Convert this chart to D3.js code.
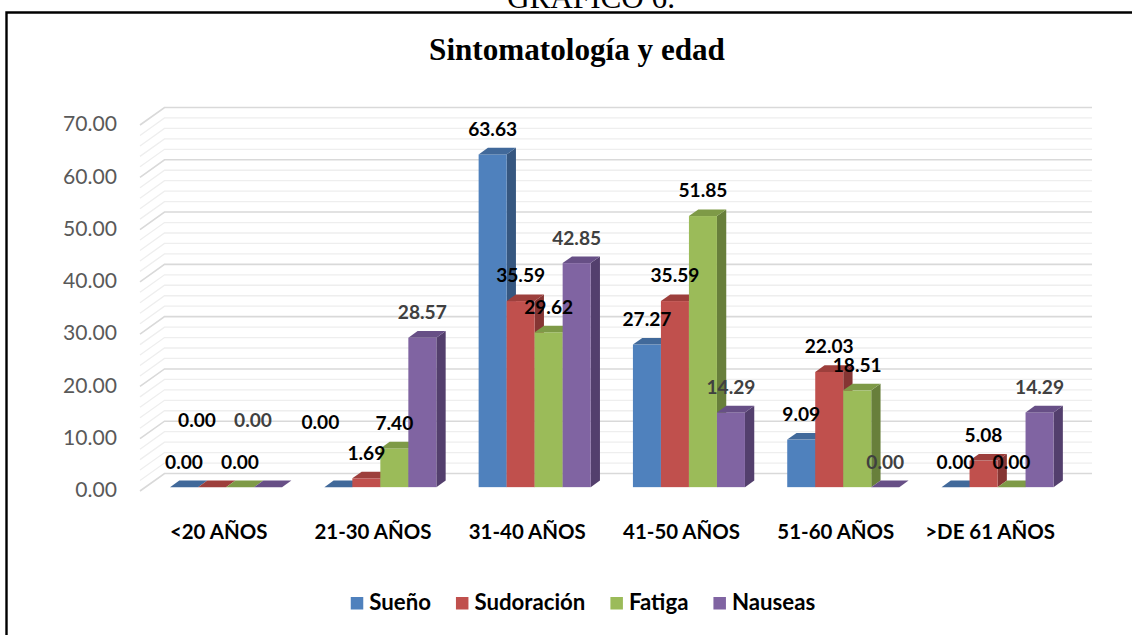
<!DOCTYPE html>
<html>
<head>
<meta charset="utf-8">
<script src="https://cdn.jsdelivr.net/npm/d3@7"></script>
<style>
  html, body { margin: 0; padding: 0; background: #fff; }
  svg { display: block; }
</style>
</head>
<body>
<svg id="chart" width="1132" height="635"></svg>
<script>
// ---------------- DATA ----------------
const categories = ["<20 AÑOS", "21-30 AÑOS", "31-40 AÑOS", "41-50 AÑOS", "51-60 AÑOS", ">DE 61 AÑOS"];
const seriesNames = ["Sueño", "Sudoración", "Fatiga", "Nauseas"];
const sueno      = [0.00, 0.00, 63.63, 27.27,  9.09,  0.00];
const sudoracion = [0.00, 1.69, 35.59, 35.59, 22.03,  5.08];
const fatiga     = [0.00, 7.40, 29.62, 51.85, 18.51,  0.00];
const nauseas    = [0.00, 28.57, 42.85, 14.29, 0.00, 14.29];
const yTicks = [0, 10, 20, 30, 40, 50, 60, 70];
const titleText = "Sintomatología y edad";
const captionText = "GRÁFICO 6.";

const seriesValues = [sueno, sudoracion, fatiga, nauseas];

// ---------------- STYLE ----------------
const frontColors = ["#4F81BD", "#C0504D", "#9BBB59", "#8064A2"];
const topColors   = ["#41699A", "#9D3F3C", "#7E9A47", "#674F86"];
const sideColors  = ["#365780", "#853533", "#687F3B", "#533F6D"];
const labelColors = ["#000000", "#000000", "#000000", "#404040"];
// Excel-style overlap nudges for a few data labels: [category, series, dx, dy]
const labelNudges = [[0, 1, -15, -42], [0, 3, -15, -42], [1, 0, -18, -40]];

const svg = d3.select("#chart");

// helper: set font size so text reaches target width
function fitFont(sel, family, weight, sample, targetW) {
  const t = svg.append("text").attr("font-family", family).attr("font-weight", weight)
    .attr("font-size", 100).text(sample);
  const w = t.node().getComputedTextLength();
  t.remove();
  return 100 * targetW / w;
}

const sansFam = "Lato, 'Open Sans', 'DejaVu Sans', sans-serif";
const serifFam = "'Liberation Serif', 'DejaVu Serif', serif";

// frame
svg.append("path")
  .attr("d", "M6.5,640 L6.5,12.5 L1140,12.5")
  .attr("fill", "none").attr("stroke", "#000").attr("stroke-width", 2.4);

// caption above frame (clipped)
const capSize = fitFont(svg, serifFam, "normal", captionText, 168);
svg.append("text").attr("x", 591).attr("y", 8)
  .attr("text-anchor", "middle").attr("font-family", serifFam)
  .attr("font-size", capSize).attr("fill", "#000").text(captionText);

// title
const titleSize = fitFont(svg, serifFam, "bold", titleText, 296);
svg.append("text").attr("x", 577).attr("y", 60)
  .attr("text-anchor", "middle").attr("font-family", serifFam).attr("font-weight", "bold")
  .attr("font-size", titleSize).attr("fill", "#000").text(titleText);

// ---------------- SCALES ----------------
const yFront = d3.scaleLinear().domain([0, 70]).range([491, 125]);
const x = d3.scaleBand().domain(categories).range([143.5, 1069.3])
  .paddingInner(0.274).paddingOuter(0.137);
const DX = 24.5, DY = -17.5;       // full depth of the 3D box
const d0 = 0.22, d1 = 0.60;        // bar depth span
const wallLeft = 140, wallRight = 1092;

// ---------------- GRID ----------------
const grid = svg.append("g");
const minorTicks = d3.range(0, 70.001, 2).filter(v => v % 10 !== 0);
minorTicks.forEach(v => {
  const yy = yFront(v);
  grid.append("path")
    .attr("d", `M${wallLeft},${yy} L${wallLeft + DX},${yy + DY} L${wallRight},${yy + DY}`)
    .attr("fill", "none").attr("stroke", "#EEEEEE").attr("stroke-width", 1.3);
});
yTicks.forEach(v => {
  const yy = yFront(v);
  grid.append("path")
    .attr("d", `M${wallLeft},${yy} L${wallLeft + DX},${yy + DY} L${wallRight},${yy + DY}`)
    .attr("fill", "none").attr("stroke", "#D9D9D9").attr("stroke-width", 1.6);
});

// y axis labels
const tickSize = fitFont(svg, sansFam, "normal", "70.00", 54);
svg.append("g").selectAll("text").data(yTicks).join("text")
  .attr("x", 117).attr("y", d => yFront(d) + 1)
  .attr("text-anchor", "end").attr("dominant-baseline", "middle")
  .attr("font-family", sansFam).attr("font-size", tickSize).attr("fill", "#595959")
  .text(d => d3.format(".2f")(d));

// ---------------- BARS ----------------
const bw = x.bandwidth() / seriesNames.length;
const ox0 = d0 * DX, oy0 = d0 * DY;
const ddx = (d1 - d0) * DX, ddy = (d1 - d0) * DY;
const yBar = v => yFront(v) + oy0;

const barsG = svg.append("g");
const labelData = [];
categories.forEach((c, ci) => {
  seriesNames.forEach((s, si) => {
    const v = seriesValues[si][ci];
    const xl = x(c) + ox0 + si * bw;
    const xr = xl + bw;
    const yt = yBar(v);
    const yb = yBar(0);
    const g = barsG.append("g");
    if (v > 0) {
      // side face
      g.append("path")
        .attr("d", `M${xr},${yt} L${xr + ddx},${yt + ddy} L${xr + ddx},${yb + ddy} L${xr},${yb} Z`)
        .attr("fill", sideColors[si]);
      // front face
      g.append("rect").attr("x", xl).attr("y", yt).attr("width", bw).attr("height", yb - yt)
        .attr("fill", frontColors[si]);
    }
    // top face
    g.append("path")
      .attr("d", `M${xl},${yt} L${xr},${yt} L${xr + ddx},${yt + ddy} L${xl + ddx},${yt + ddy} Z`)
      .attr("fill", topColors[si]);
    let lx = xl + bw / 2, ly = yt - 23.5;
    labelNudges.forEach(n => { if (n[0] === ci && n[1] === si) { lx += n[2]; ly += n[3]; } });
    labelData.push({ v, lx, ly, si });
  });
});

// data labels
const lblSize = fitFont(svg, sansFam, "bold", "63.63", 49);
svg.append("g").selectAll("text").data(labelData).join("text")
  .attr("x", d => d.lx).attr("y", d => d.ly)
  .attr("text-anchor", "middle").attr("dominant-baseline", "middle")
  .attr("font-family", sansFam).attr("font-weight", "bold").attr("font-size", lblSize)
  .attr("fill", d => labelColors[d.si])
  .text(d => d3.format(".2f")(d.v));

// category labels
const catSize = fitFont(svg, sansFam, "bold", "31-40 AÑOS", 117);
svg.append("g").selectAll("text").data(categories).join("text")
  .attr("x", d => x(d) + x.bandwidth() / 2 - 2).attr("y", 539)
  .attr("text-anchor", "middle")
  .attr("font-family", sansFam).attr("font-weight", "bold").attr("font-size", catSize)
  .attr("fill", "#000").text(d => d);

// ---------------- LEGEND ----------------
const legSize = fitFont(svg, sansFam, "bold", "Sudoración", 111);
const leg = svg.append("g");
const sq = 12.5, gapTxt = 6, gapItem = 25;
const widths = seriesNames.map(n => {
  const t = svg.append("text").attr("font-family", sansFam).attr("font-weight", "bold")
    .attr("font-size", legSize).text(n);
  const w = t.node().getComputedTextLength(); t.remove(); return w;
});
const total = d3.sum(widths) + seriesNames.length * (sq + gapTxt) + (seriesNames.length - 1) * gapItem;
let cx = 583 - total / 2;
seriesNames.forEach((n, i) => {
  leg.append("rect").attr("x", cx).attr("y", 597).attr("width", sq).attr("height", sq)
    .attr("fill", frontColors[i]);
  leg.append("text").attr("x", cx + sq + gapTxt).attr("y", 609.5)
    .attr("font-family", sansFam).attr("font-weight", "bold").attr("font-size", legSize)
    .attr("fill", "#000").text(n);
  cx += sq + gapTxt + widths[i] + gapItem;
});
</script>
</body>
</html>
